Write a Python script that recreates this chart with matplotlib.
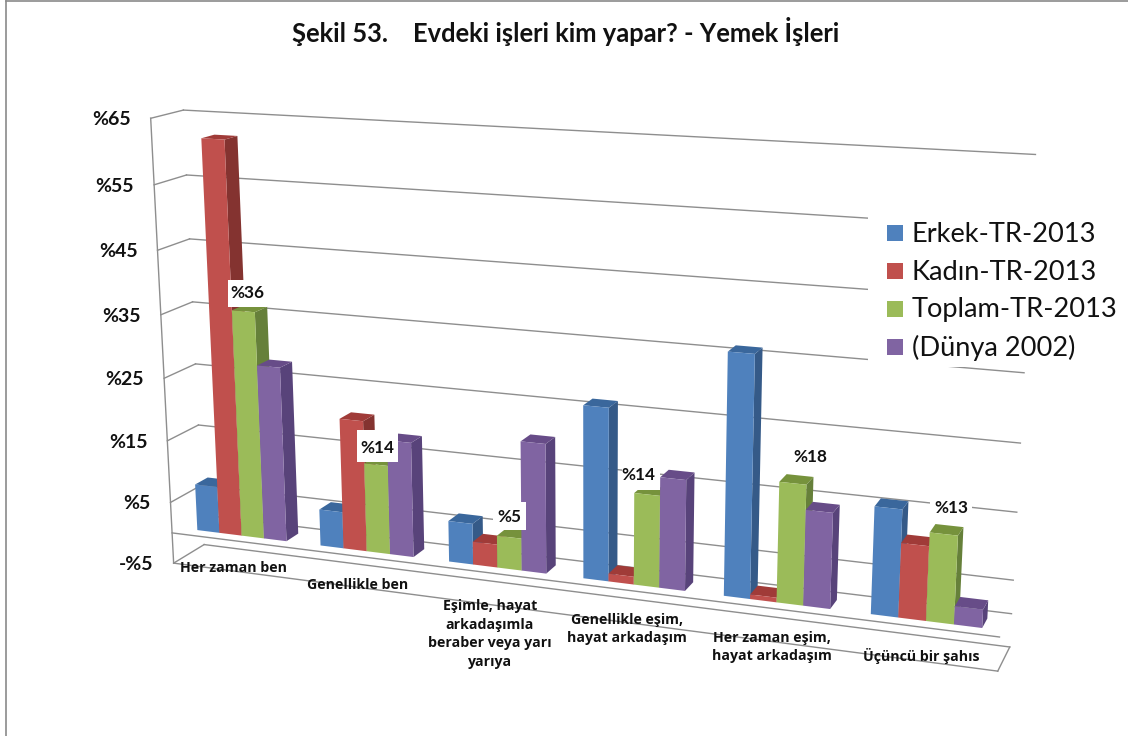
import matplotlib
matplotlib.use("Agg")
import matplotlib.pyplot as plt
from matplotlib.patches import Polygon, Rectangle
import numpy as np

plt.rcParams["font.family"] = ["Lato", "DejaVu Sans"]

categories = ["Her zaman ben", "Genellikle ben",
              "Eşimle, hayat\narkadaşımla\nberaber veya yarı\nyarıya",
              "Genellikle eşim,\nhayat arkadaşım",
              "Her zaman eşim,\nhayat arkadaşım", "Üçüncü bir şahıs"]
series_names = ["Erkek-TR-2013", "Kadın-TR-2013", "Toplam-TR-2013", "(Dünya 2002)"]
erkek = [7.5, 5.8, 6.4, 26.4, 36.2, 15.9]
kadin = [62, 20.6, 3.6, 1.2, 0.7, 11]
toplam = [36, 14, 5, 14, 18, 13]
dunya = [27.7, 18, 20, 16.8, 14.3, 2.7]
y_ticks = [-5, 5, 15, 25, 35, 45, 55, 65]

front_colors = ["#4F81BD", "#C0504D", "#9BBB59", "#8064A2"]
top_colors = ["#3A679C", "#A03B38", "#76923C", "#674C88"]
side_colors = ["#355A88", "#843330", "#66803A", "#58437A"]

# box corners seen in the picture: (category pos, depth, value) -> pixel
anchors = [
    (0, 0, 65, 150, 118), (0, 0, 55, 154, 185), (0, 0, 45, 158, 251),
    (0, 0, 35, 162, 314), (0, 0, 25, 164, 378), (0, 0, 15, 167, 441),
    (0, 0, 5, 171, 502), (0, 0, 0, 172, 533), (0, 0, -5, 173, 563),
    (0, 1, 65, 183, 110), (0, 1, 55, 187, 175), (0, 1, 45, 190, 239),
    (0, 1, 35, 192, 302), (0, 1, 25, 196, 364), (0, 1, 15, 197, 425),
    (0, 1, -5, 205, 545),
    (6, 1, 65, 1035, 155), (6, 1, 55, 1033, 228), (6, 1, 35, 1023, 373),
    (6, 1, 25, 1020, 443), (6, 1, 15, 1017, 512), (6, 1, 5, 1013, 580),
    (6, 1, 0, 1012, 613), (6, 1, -5, 1010, 647),
    (6, 0, 0, 1000, 637), (6, 0, -5, 997, 672),
]


def fit_camera(points):
    rows = []
    for u, d, v, x, y in points:
        p = [u, d, v / 10, 1]
        rows.append(p + [0, 0, 0, 0] + [-x * c for c in p])
        rows.append([0, 0, 0, 0] + p + [-y * c for c in p])
    return np.linalg.svd(np.array(rows, dtype=float))[2][-1].reshape(3, 4)


camera = fit_camera(anchors)


def proj(u, d, v):
    x, y, w = camera @ np.array([u, d, v / 10, 1.0])
    return x / w, y / w


def draw_line(ax, a, b, zorder=1):
    p, q = proj(*a), proj(*b)
    ax.plot([p[0], q[0]], [p[1], q[1]], color="#8E8E8E", lw=1.0, zorder=zorder)


def draw_bar(ax, u0, u1, d0, d1, val, i, zorder):
    side = [proj(u1, d0, 0), proj(u1, d1, 0), proj(u1, d1, val), proj(u1, d0, val)]
    top = [proj(u0, d0, val), proj(u1, d0, val), proj(u1, d1, val), proj(u0, d1, val)]
    front = [proj(u0, d0, 0), proj(u1, d0, 0), proj(u1, d0, val), proj(u0, d0, val)]
    ax.add_patch(Polygon(side, fc=side_colors[i], ec="none", zorder=zorder))
    ax.add_patch(Polygon(top, fc=top_colors[i], ec="none", zorder=zorder))
    ax.add_patch(Polygon(front, fc=front_colors[i], ec="none", zorder=zorder))


fig = plt.figure(figsize=(11.28, 7.36), dpi=100)
ax = fig.add_axes([0, 0, 1, 1])
ax.set_xlim(0, 1128)
ax.set_ylim(736, 0)
ax.axis("off")

# outer frame
ax.plot([5.5, 5.5], [1, 736], color="#8A8A8A", lw=1.2)
ax.plot([5.5, 1128], [1.3, 1.3], color="#8A8A8A", lw=1.2)

ax.text(566, 31, "Şekil 53.    Evdeki işleri kim yapar? - Yemek İşleri",
        ha="center", va="center", fontsize=18.4, fontweight="bold", color="#111111")

# walls and floor
for v in y_ticks:
    draw_line(ax, (0, 0, v), (0, 1, v))
    draw_line(ax, (0, 1, v), (6, 1, v))
    ax_x, ax_y = proj(0, 0, v)
    label = f"-%{-v}" if v < 0 else f"%{v}"
    ax.text(ax_x - 20, ax_y + 1.5, label, ha="right", va="center", fontsize=14,
            fontweight="bold", color="#111111")
draw_line(ax, (0, 0, -5), (0, 0, 65))
draw_line(ax, (0, 1, 0), (6, 1, 0))
draw_line(ax, (0, 0, 0), (6, 0, 0))
draw_line(ax, (0, 0, -5), (6, 0, -5))
draw_line(ax, (6, 0, -5), (6, 1, -5))

# legend sits on a white box that hides the grid
ax.add_patch(Rectangle((868, 205), 260, 162, fc="white", ec="none", zorder=2))
legend_y = [233, 271, 309, 347]
for i, name in enumerate(series_names):
    ax.add_patch(Rectangle((887, legend_y[i] - 8), 16, 16, fc=front_colors[i], ec="none", zorder=3))
    ax.text(912, legend_y[i] + 1, name, ha="left", va="center", fontsize=19.6, color="#111111", zorder=3)

# bars
series = [erkek, kadin, toplam, dunya]
margin = 0.14
bar_w = 0.182
d0, d1 = 0.27, 0.68
z = 5
for c in range(len(categories)):
    for i, vals in enumerate(series):
        u0 = c + margin + i * bar_w
        draw_bar(ax, u0, u0 + bar_w, d0, d1, vals[c], i, z)
        z += 1

# data labels of the Toplam series
label_xy = [(247, 293), (377, 448), (509, 517), (638, 475), (810, 457), (951, 508)]
label_box = [(228, 280, 267, 307), (357, 430, 398, 462), (493, 502, 526, 530),
             (622, 460, 660, 490), (790, 445, 830, 470), (930, 495, 972, 520)]
for c, val in enumerate(toplam):
    x0, y0, x1, y1 = label_box[c]
    ax.add_patch(Rectangle((x0, y0), x1 - x0, y1 - y0, fc="white", ec="none", zorder=60))
    ax.text(label_xy[c][0], label_xy[c][1], f"%{val}", ha="center", va="center",
            fontsize=12.3, fontweight="bold", color="#111111", zorder=61)

# category labels
cat_xy = [(233, 568), (358, 585), (490, 634), (627, 629), (772, 647), (921, 656)]
for c, name in enumerate(categories):
    ax.text(cat_xy[c][0], cat_xy[c][1], name, ha="center", va="center", fontsize=10.2,
            family=["Open Sans", "DejaVu Sans"], fontweight="bold", color="#111111",
            linespacing=1.45, zorder=61)

fig.savefig("out.png", dpi=100)
